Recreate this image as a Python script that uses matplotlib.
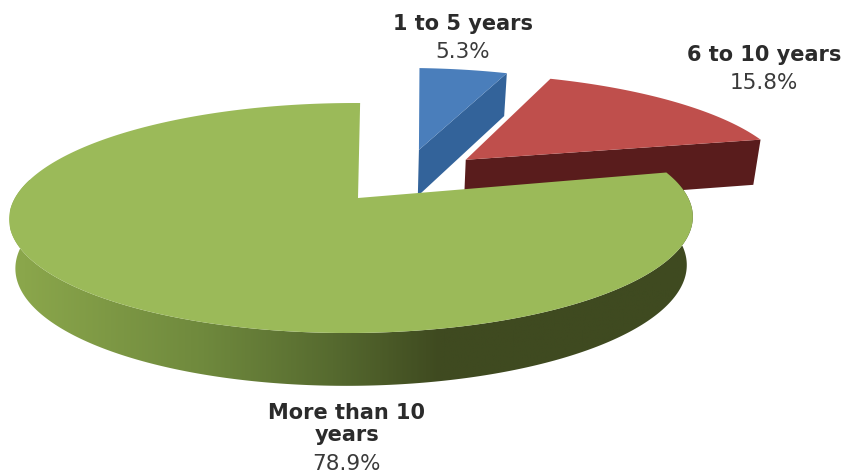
import numpy as np
import matplotlib
matplotlib.use("Agg")
import matplotlib.pyplot as plt
from matplotlib.colors import LinearSegmentedColormap
from matplotlib.patches import Polygon

# Survey shares, clockwise from twelve o'clock
categories = ["1 to 5 years", "6 to 10 years", "More than 10\nyears"]
shares = [5.3, 15.8, 78.9]
share_labels = ["5.3%", "15.8%", "78.9%"]

# Styling of each slice
top_colors = ["#4a7ebb", "#bf4f4c", "#9bba59"]
side_colors = ["#33639a", "#591c1c", "#3f4a20"]
explode_uv = [(0.193, 0.468), (0.34, 0.367), (0.0, 0.0)]
slice_scale = [1.0, 1.03, 1.0]
slice_turn_deg = [1.5, 1.5, 0.0]
label_x = [463, 764, 347]
name_y = [24, 55, 424]
pct_y = [52, 83, 464]

# Perspective view of the pie plane (pixel units on a 854x474 canvas)
CX, CY = 358.0, 198.0
AX, BY = 336.5, 111.5
TILT_V, TILT_U = 0.174, 0.019
SHEAR = 2.5
DEPTH, BOTTOM_SHRINK = 48.0, 0.982


def project(u, v, lower=False):
    u, v = np.asarray(u, float), np.asarray(v, float)
    w = 1 + TILT_V * v + TILT_U * u
    x, y = (AX * u + SHEAR * v) / w, BY * v / w
    if lower:
        return CX + x * BOTTOM_SHRINK, CY - y + DEPTH / np.sqrt(w)
    return CX + x, CY - y


def outline(u, v, lower=False):
    return np.column_stack(project(u, v, lower))


fig = plt.figure(figsize=(8.54, 4.74), dpi=100, facecolor="white")
ax = fig.add_axes([0, 0, 1, 1])

edges = np.cumsum([0.0] + shares) / sum(shares) * 2 * np.pi

for i in range(len(shares)):
    t = np.linspace(edges[i], edges[i + 1], 360) + np.radians(slice_turn_deg[i])
    du, dv = explode_uv[i]
    arc_u = du + slice_scale[i] * np.sin(t)
    arc_v = dv + slice_scale[i] * np.cos(t)

    if i < 2:
        # Cut face on the clockwise edge of a pulled-out slice
        edge_u = np.array([du, arc_u[-1]])
        edge_v = np.array([dv, arc_v[-1]])
        face = np.vstack([outline(edge_u, edge_v),
                          outline(edge_u, edge_v, lower=True)[::-1]])
        ax.add_patch(Polygon(face, closed=True, fc=side_colors[i], ec="none", zorder=2 + i))
    else:
        # Rim of the large slice, shaded from left to right
        front = t < np.radians(290)
        rim = np.vstack([outline(arc_u[front], arc_v[front]),
                         outline(arc_u[front], arc_v[front], lower=True)[::-1]])
        clip = Polygon(rim, closed=True, fc="none", ec="none", transform=ax.transData)
        ax.add_patch(clip)
        cmap = LinearSegmentedColormap.from_list(
            "rim", [(0, "#8ca84c"), (0.45, "#6f893d"), (0.75, "#566a2f"), (1, side_colors[i])])
        ramp = np.concatenate([np.linspace(0, 1, 200), np.ones(120)])
        shade = ax.imshow(ramp[None, :], cmap=cmap, vmin=0, vmax=1, aspect="auto",
                          extent=(10, 700, 400, 180), zorder=3)
        shade.set_clip_path(clip)

    top = np.vstack([outline([du], [dv]), outline(arc_u, arc_v)])
    ax.add_patch(Polygon(top, closed=True, fc=top_colors[i], ec="none", zorder=2.5 + i))

    ax.text(label_x[i], name_y[i], categories[i], ha="center", va="center", fontsize=15,
            fontweight="bold", color="#2b2b2b", family="DejaVu Sans", linespacing=1.18, zorder=8)
    ax.text(label_x[i], pct_y[i], share_labels[i], ha="center", va="center", fontsize=15.5,
            color="#3a3a3a", family="DejaVu Sans", zorder=8)

ax.set_xlim(0, 854)
ax.set_ylim(474, 0)
ax.axis("off")
fig.savefig("out.png", dpi=100, facecolor="white")
